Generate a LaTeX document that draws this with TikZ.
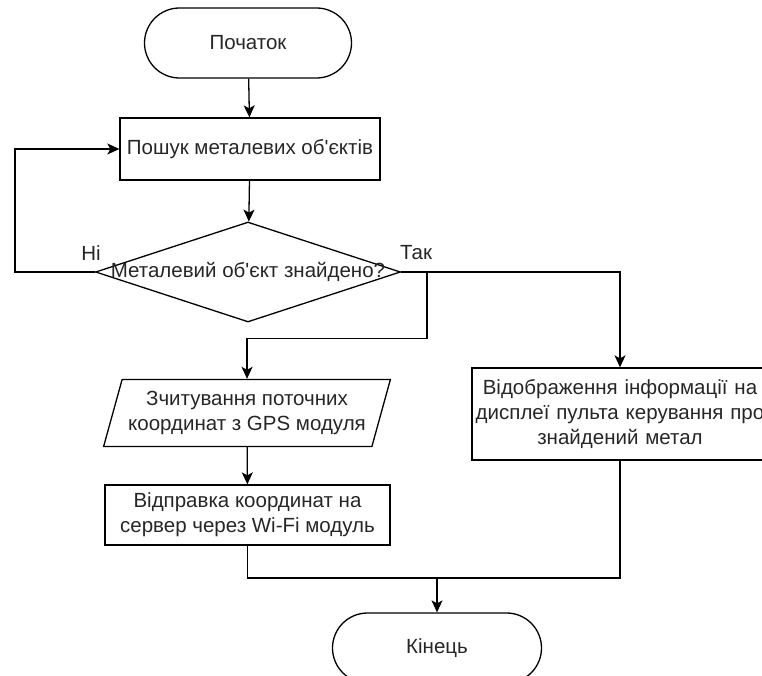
\documentclass[tikz,border=0pt]{standalone}
\usepackage{fontspec}
\setmainfont{Liberation Sans}
\usetikzlibrary{shapes.geometric,arrows.meta}
\tikzset{
    every node/.style={font=\fontsize{20.5}{25}\selectfont, text=black!85},
    term/.style={draw, rounded corners=35pt, minimum height=70pt, line width=1.3pt},
    proc/.style={draw, rectangle, line width=1.3pt, align=center, inner xsep=0pt},
    dec/.style={draw, diamond, inner sep=0pt, minimum width=305pt, minimum height=100pt, line width=1.3pt},
    io/.style={draw, trapezium, trapezium left angle=68, trapezium right angle=112, trapezium stretches=true, inner sep=0pt, align=center, line width=1.3pt},
    arr/.style={line width=1.3pt, -{Stealth[length=12pt,width=11pt,inset=3pt]}},
    ln/.style={line width=1.3pt}
}
\begin{document}
\begin{tikzpicture}[x=1pt,y=-1pt]
        \useasboundingbox (0,0) rectangle (762,676);

        \node[term, minimum width=207pt] (start) at (248,43) {Початок};
        \node[proc, minimum width=260pt, minimum height=62pt] (search) at (250,149) {Пошук металевих об\textquotesingle єктів};
        \node[dec, label=center:{Металевий об\textquotesingle єкт знайдено?}] (dec) at (248,272) {};
        \node (no) at (91,253) {Ні};
        \node (yes) at (416,253) {Так};
        \node[io, minimum width=287pt, minimum height=67pt] (gps) at (247,413) {Зчитування поточних\\координат з GPS модуля};
        \node[proc, minimum width=285pt, minimum height=60pt] (send) at (247.5,515) {Відправка координат на\\сервер через Wi-Fi модуль};
        \node[proc, minimum width=296pt, minimum height=92pt, text width=296pt] (show) at (620,414) {Відображення інформації на\\дисплеї пульта керування про\\знайдений метал};
        \node[term, minimum width=209pt] (end) at (437,648) {Кінець};
        \coordinate (br) at (427,272);
        \coordinate (join) at (437,578);

        \draw [arr] (start) -- (search);
        \draw [arr] (search) -- (dec);
        \draw [arr] (dec.west) -- ++(-80,0) |- (search.west);
        \draw [arr] (dec.east) -| (show.north);
        \draw [arr] (br) |- ([yshift=40pt]gps.north) -- (gps.north);
        \draw [arr] (gps) -- (send);
        \draw [ln] (send.south) |- (join);
        \draw [ln] (show.south) |- (join);
        \draw [arr] (join) -- (end);
    \end{tikzpicture}
\end{document}
